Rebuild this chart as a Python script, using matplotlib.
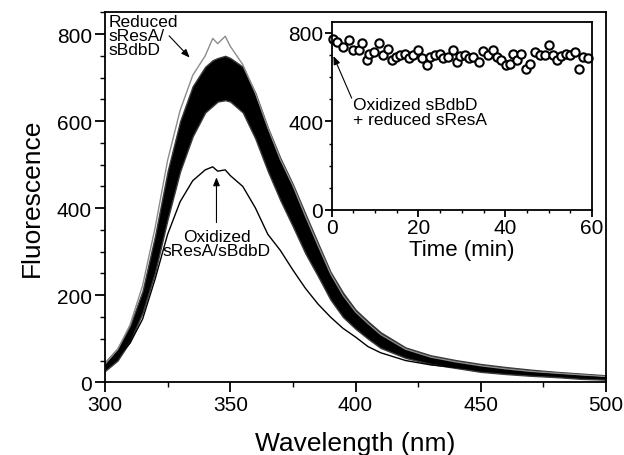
import matplotlib
matplotlib.use("Agg")
import matplotlib.pyplot as plt
from matplotlib.ticker import MultipleLocator

plt.rcParams['font.family'] = ['Liberation Sans', 'DejaVu Sans']

# ---- main spectra ----
wl = [300, 305, 310, 315, 320, 325, 330, 335, 340, 343, 345, 348, 350, 355, 360,
      365, 370, 375, 380, 385, 390, 395, 400, 405, 410, 420, 430, 440, 450, 460,
      470, 480, 490, 500]
reduced_upper = [46, 78, 130, 210, 337, 485, 600, 680, 725, 740, 745, 750, 745, 725, 665,
                 585, 515, 455, 387, 320, 254, 206, 167, 140, 115, 80, 62, 51, 42, 35,
                 29, 24, 20, 16]
reduced_lower = [26, 50, 94, 160, 253, 375, 485, 565, 620, 635, 645, 648, 645, 620, 560,
                 485, 418, 358, 296, 244, 190, 150, 123, 100, 79, 56, 42, 33, 24, 19,
                 15, 12, 8, 6]
reduced_gray = [42, 75, 132, 222, 355, 510, 625, 705, 750, 790, 778, 795, 772, 730, 665,
                585, 512, 452, 382, 315, 250, 200, 162, 135, 110, 76, 58, 47, 38, 31,
                25, 21, 17, 13]
oxidized = [34, 58, 90, 145, 237, 340, 415, 463, 488, 495, 485, 488, 475, 450, 401,
            340, 303, 258, 216, 180, 150, 124, 104, 82, 68, 50, 40, 34, 30, 25,
            21, 17, 13, 10]

# ---- inset time course ----
time_min = [0.4, 1.3, 2.7, 4.1, 5.0, 6.4, 6.9, 8.1, 8.7, 9.8, 11.0, 11.9, 13.0, 13.8,
            14.8, 15.7, 16.9, 17.9, 18.8, 20.0, 20.7, 21.9, 22.6, 23.8, 24.9, 25.7,
            26.9, 27.9, 28.8, 29.5, 30.7, 31.7, 32.6, 34.0, 34.9, 36.1, 37.1, 38.0,
            39.1, 40.1, 41.1, 41.8, 42.7, 43.7, 44.9, 45.7, 46.8, 48.0, 49.1, 50.1,
            50.9, 51.9, 52.9, 54.1, 55.0, 56.0, 57.0, 58.0, 59.1]
fluor_t = [774, 759, 737, 767, 722, 722, 755, 676, 706, 714, 752, 699, 726, 676,
           691, 699, 706, 686, 699, 722, 686, 654, 691, 699, 702, 686,
           691, 722, 669, 696, 699, 686, 691, 669, 717, 699, 722, 691,
           676, 654, 661, 702, 676, 702, 638, 661, 711, 699, 699, 744,
           699, 676, 696, 702, 699, 714, 638, 691, 687]

W, H = 624, 456
fig = plt.figure(figsize=(W / 100, H / 100), dpi=100)

def px_rect(l, r, t, b):
    return [l / W, 1 - b / H, (r - l) / W, (b - t) / H]

ARROW = dict(arrowstyle='-|>,head_length=0.5,head_width=0.2', lw=0.8, color='black',
             shrinkA=0, shrinkB=0)

ax = fig.add_axes(px_rect(105, 606, 13.3, 383.3))
ax.fill_between(wl, reduced_lower, reduced_upper, color='black', lw=1.0, ec='#3a3a3a')
ax.plot(wl, reduced_gray, color='#8c8c8c', lw=1.0)
ax.plot(wl, oxidized, color='black', lw=1.0)

ax.set_xlim(300, 500)
ax.set_ylim(0, 850)
ax.xaxis.set_major_locator(MultipleLocator(50))
ax.xaxis.set_minor_locator(MultipleLocator(25))
ax.yaxis.set_major_locator(MultipleLocator(200))
ax.yaxis.set_minor_locator(MultipleLocator(50))
for s in ax.spines.values():
    s.set_linewidth(1.3)
ax.tick_params(which='major', direction='out', length=7, width=1.3, labelsize=15, pad=2.5)
ax.tick_params(which='minor', direction='out', length=3.5, width=1.0)
ax.set_xlabel('Wavelength (nm)', fontsize=19, labelpad=12)
ax.set_ylabel('Fluorescence', fontsize=19, labelpad=9)

ax.text(301.5, 847, 'Reduced\nsResA/\nsBdbD', fontsize=12.5, ha='left', va='top',
        linespacing=0.95)
ax.annotate('', xy=(333.8, 746), xytext=(325.6, 796), arrowprops=ARROW)
ax.text(344.5, 353, 'Oxidized\nsResA/sBdbD', fontsize=12.5, ha='center', va='top',
        linespacing=0.95)
ax.annotate('', xy=(344.5, 471), xytext=(344.5, 367), arrowprops=ARROW)

# inset
ins = fig.add_axes(px_rect(331.7, 592, 22.7, 211))
ins.plot(time_min, fluor_t, 'o', ms=6, mfc='white', mec='black', mew=1.5, clip_on=False)
ins.set_xlim(0, 60)
ins.set_ylim(0, 850)
ins.xaxis.set_major_locator(MultipleLocator(20))
ins.xaxis.set_minor_locator(MultipleLocator(5))
ins.yaxis.set_major_locator(MultipleLocator(400))
ins.yaxis.set_minor_locator(MultipleLocator(100))
for s in ins.spines.values():
    s.set_linewidth(1.3)
ins.tick_params(which='major', direction='out', length=5, width=1.3, labelsize=15, pad=1)
ins.tick_params(which='minor', direction='out', length=2.5, width=1.0)
ins.set_xlabel('Time (min)', fontsize=16, labelpad=1)
ins.text(5.0, 508, 'Oxidized sBdbD\n+ reduced sResA', fontsize=12.5, ha='left', va='top',
         linespacing=1.0)
ins.annotate('', xy=(0.4, 695), xytext=(4.6, 505), arrowprops=ARROW)

fig.savefig('out.png', dpi=100)
